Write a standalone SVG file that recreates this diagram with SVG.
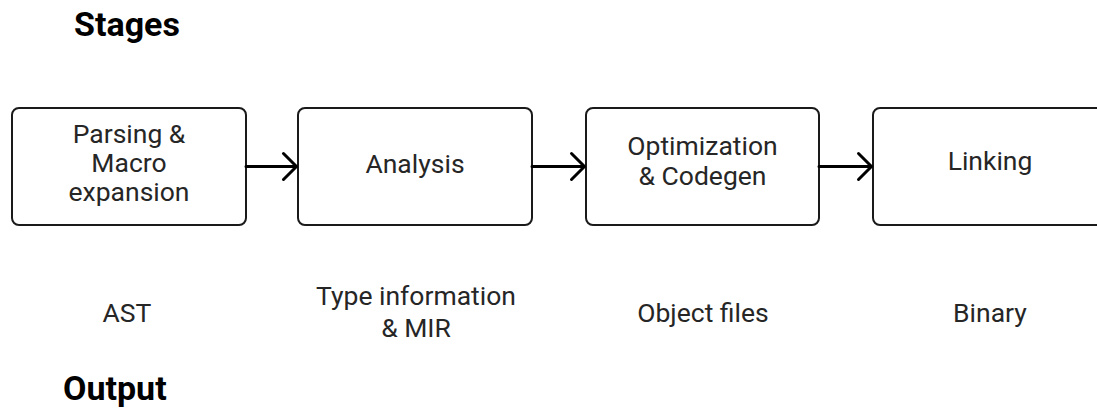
<svg xmlns="http://www.w3.org/2000/svg" width="1097" height="410" viewBox="0 0 1097 410">
  <style>
    .box { fill: #ffffff; stroke: #1a1a1a; stroke-width: 2; }
    .lbl { font-family: Roboto, "Liberation Sans", sans-serif; font-size: 26.5px; fill: #262626; text-anchor: middle; }
    .ttl { font-family: Roboto, "Liberation Sans", sans-serif; font-size: 34px; font-weight: bold; fill: #000000; }
    .conn { stroke: #000000; stroke-width: 3; fill: none; stroke-linecap: round; stroke-linejoin: round; }
  </style>
  <rect width="1097" height="410" fill="#ffffff"/>
  <text class="ttl" x="74" y="36">Stages</text>
  <text class="ttl" x="63" y="400">Output</text>

  <g id="parsing">
    <rect class="box" x="12" y="108" width="234" height="117" rx="7"/>
    <text class="lbl" x="129" y="143">Parsing &amp;</text>
    <text class="lbl" x="129" y="172">Macro</text>
    <text class="lbl" x="129" y="201">expansion</text>
  </g>
  <g id="analysis">
    <rect class="box" x="298" y="108" width="234" height="117" rx="7"/>
    <text class="lbl" x="415" y="173">Analysis</text>
  </g>
  <g id="optimization">
    <rect class="box" x="586" y="108" width="233" height="117" rx="7"/>
    <text class="lbl" x="702.5" y="155">Optimization</text>
    <text class="lbl" x="702.5" y="185">&amp; Codegen</text>
  </g>
  <g id="linking">
    <rect class="box" x="873" y="108" width="234" height="117" rx="7"/>
    <text class="lbl" x="990" y="170">Linking</text>
  </g>

  <g id="out-ast">
    <text class="lbl" x="127" y="322">AST</text>
  </g>
  <g id="out-type">
    <text class="lbl" x="416" y="305">Type information</text>
    <text class="lbl" x="416" y="337">&amp; MIR</text>
  </g>
  <g id="out-obj">
    <text class="lbl" x="703" y="322">Object files</text>
  </g>
  <g id="out-bin">
    <text class="lbl" x="990" y="322">Binary</text>
  </g>

  <g id="connectors">
    <path class="conn" d="M246 166.5 H296.5 M283.5 153.5 L296.5 166.5 L283.5 179.5"/>
    <path class="conn" d="M532 166.5 H584.5 M571.5 153.5 L584.5 166.5 L571.5 179.5"/>
    <path class="conn" d="M819 166.5 H871.5 M858.5 153.5 L871.5 166.5 L858.5 179.5"/>
  </g>
</svg>
